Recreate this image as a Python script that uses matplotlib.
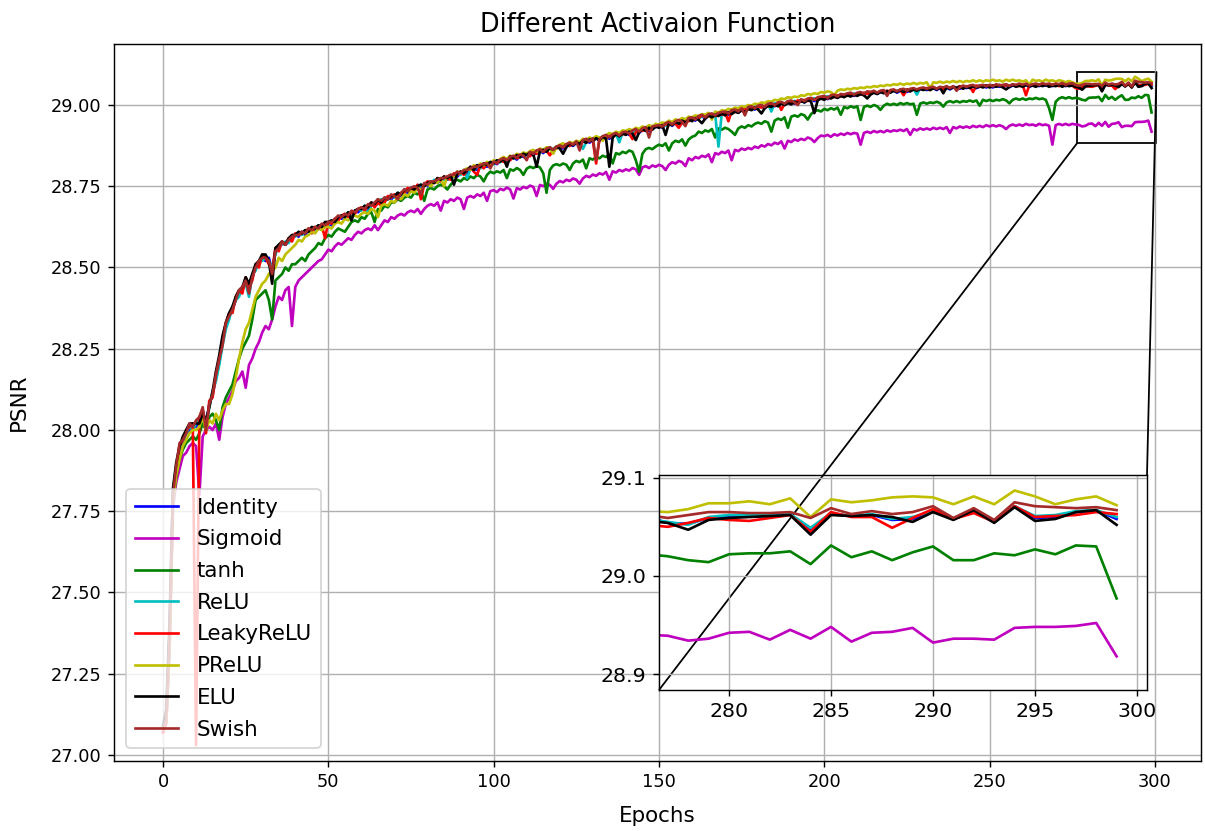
import matplotlib
matplotlib.use("Agg")
import matplotlib.pyplot as plt
import numpy as np
from matplotlib.ticker import MultipleLocator, FormatStrFormatter
from mpl_toolkits.axes_grid1.inset_locator import mark_inset

labels = ["Identity", "Sigmoid", "tanh", "ReLU", "LeakyReLU", "PReLU", "ELU", "Swish"]
colors = ["b", "m", "g", "c", "r", "y", "k", "brown"]

identity = [
    27.08, 27.12, 27.38, 27.80, 27.88, 27.94, 27.96, 27.99, 28.00, 28.01,
    28.01, 28.03, 28.06, 28.02, 28.08, 28.11, 28.16, 28.21, 28.27, 28.32,
    28.35, 28.37, 28.40, 28.42, 28.43, 28.46, 28.43, 28.47, 28.50, 28.51,
    28.53, 28.52, 28.53, 28.49, 28.55, 28.56, 28.575, 28.57, 28.58, 28.59,
    28.60, 28.595, 28.61, 28.60, 28.615, 28.61, 28.62, 28.625, 28.62, 28.63,
    28.635, 28.63, 28.645, 28.655, 28.65, 28.66, 28.665, 28.66, 28.675, 28.67,
    28.68, 28.685, 28.68, 28.695, 28.69, 28.705, 28.70, 28.71, 28.715, 28.71,
    28.72, 28.725, 28.72, 28.735, 28.73, 28.74, 28.745, 28.74, 28.75, 28.755,
    28.75, 28.76, 28.765, 28.76, 28.77, 28.775, 28.77, 28.78, 28.785, 28.78,
    28.79, 28.795, 28.79, 28.80, 28.805, 28.80, 28.81, 28.815, 28.81, 28.82,
    28.823, 28.818, 28.828, 28.832, 28.826, 28.836, 28.840, 28.832, 28.845, 28.840,
    28.848, 28.852, 28.845, 28.855, 28.860, 28.852, 28.862, 28.866, 28.858, 28.868,
    28.872, 28.866, 28.876, 28.880, 28.874, 28.884, 28.878, 28.888, 28.892, 28.884,
    28.894, 28.898, 28.890, 28.900, 28.904, 28.896, 28.906, 28.910, 28.902, 28.912,
    28.914, 28.908, 28.918, 28.922, 28.914, 28.924, 28.928, 28.920, 28.930, 28.932,
    28.935, 28.930, 28.940, 28.944, 28.936, 28.946, 28.950, 28.944, 28.952, 28.956,
    28.958, 28.952, 28.962, 28.966, 28.958, 28.968, 28.970, 28.964, 28.972, 28.974,
    28.976, 28.970, 28.980, 28.982, 28.976, 28.986, 28.984, 28.990, 28.992, 28.986,
    28.994, 28.996, 28.990, 29.000, 29.002, 28.996, 29.004, 29.006, 29.000, 29.008,
    29.010, 29.004, 29.012, 29.014, 29.008, 29.016, 29.018, 29.012, 29.020, 29.022,
    29.024, 29.018, 29.026, 29.028, 29.022, 29.030, 29.028, 29.032, 29.034, 29.028,
    29.034, 29.036, 29.030, 29.038, 29.036, 29.040, 29.034, 29.040, 29.042, 29.038,
    29.042, 29.044, 29.038, 29.044, 29.046, 29.040, 29.046, 29.048, 29.044, 29.048,
    29.050, 29.046, 29.050, 29.052, 29.046, 29.052, 29.050, 29.054, 29.048, 29.054,
    29.054, 29.050, 29.056, 29.052, 29.056, 29.058, 29.052, 29.056, 29.058, 29.054,
    29.058, 29.054, 29.060, 29.056, 29.058, 29.060, 29.055, 29.060, 29.058, 29.062,
    29.058, 29.062, 29.056, 29.060, 29.062, 29.058, 29.063, 29.060, 29.062, 29.058,
    29.062, 29.060, 29.064, 29.058, 29.062, 29.063, 29.060,
    29.054, 29.053, 29.059, 29.061, 29.061, 29.061, 29.063, 29.046, 29.063, 29.061,
    29.062, 29.057, 29.058, 29.066, 29.058, 29.066, 29.055, 29.071, 29.059, 29.060,
    29.065, 29.067, 29.058,
]

sigmoid = [
    27.07, 27.10, 27.33, 27.76, 27.84, 27.88, 27.92, 27.93, 27.95, 27.96,
    27.95, 27.80, 27.98, 28.00, 28.01, 28.00, 28.02, 27.97, 28.04, 28.08,
    28.10, 28.12, 28.15, 28.16, 28.18, 28.13, 28.20, 28.22, 28.25, 28.27,
    28.30, 28.32, 28.31, 28.34, 28.38, 28.41, 28.40, 28.43, 28.44, 28.32,
    28.44, 28.46, 28.47, 28.48, 28.49, 28.50, 28.51, 28.52, 28.525, 28.54,
    28.555, 28.55, 28.565, 28.575, 28.57, 28.58, 28.59, 28.585, 28.60, 28.61,
    28.605, 28.615, 28.62, 28.615, 28.63, 28.615, 28.63, 28.645, 28.64, 28.655,
    28.65, 28.66, 28.665, 28.66, 28.67, 28.675, 28.67, 28.68, 28.665, 28.68,
    28.69, 28.695, 28.69, 28.70, 28.675, 28.705, 28.70, 28.71, 28.705, 28.715,
    28.71, 28.68, 28.715, 28.72, 28.715, 28.725, 28.72, 28.73, 28.705, 28.735,
    28.738, 28.732, 28.742, 28.738, 28.746, 28.740, 28.712, 28.744, 28.740, 28.748,
    28.744, 28.752, 28.748, 28.720, 28.754, 28.750, 28.758, 28.754, 28.742, 28.758,
    28.766, 28.762, 28.770, 28.766, 28.774, 28.770, 28.758, 28.774, 28.782, 28.778,
    28.786, 28.782, 28.790, 28.786, 28.794, 28.770, 28.796, 28.792, 28.800, 28.796,
    28.802, 28.798, 28.806, 28.802, 28.785, 28.808, 28.812, 28.806, 28.814, 28.810,
    28.816, 28.812, 28.800, 28.816, 28.824, 28.820, 28.828, 28.824, 28.812, 28.836,
    28.830, 28.840, 28.836, 28.844, 28.840, 28.848, 28.824, 28.852, 28.848, 28.856,
    28.852, 28.860, 28.830, 28.862, 28.858, 28.866, 28.862, 28.868, 28.864, 28.872,
    28.868, 28.876, 28.872, 28.880, 28.876, 28.884, 28.880, 28.888, 28.866, 28.890,
    28.886, 28.894, 28.890, 28.896, 28.892, 28.900, 28.896, 28.886, 28.898, 28.906,
    28.904, 28.908, 28.902, 28.910, 28.906, 28.912, 28.908, 28.914, 28.910, 28.914,
    28.912, 28.878, 28.914, 28.918, 28.914, 28.920, 28.916, 28.920, 28.916, 28.922,
    28.918, 28.922, 28.920, 28.924, 28.920, 28.926, 28.908, 28.926, 28.922, 28.928,
    28.924, 28.928, 28.924, 28.930, 28.926, 28.930, 28.926, 28.932, 28.914, 28.932,
    28.928, 28.934, 28.930, 28.934, 28.930, 28.936, 28.932, 28.936, 28.932, 28.938,
    28.934, 28.938, 28.934, 28.938, 28.934, 28.926, 28.936, 28.940, 28.936, 28.940,
    28.936, 28.942, 28.938, 28.940, 28.936, 28.942, 28.938, 28.940, 28.936, 28.878,
    28.938, 28.942, 28.938, 28.942, 28.938, 28.942, 28.940,
    28.939, 28.934, 28.936, 28.942, 28.943, 28.935, 28.945, 28.936, 28.948, 28.933,
    28.942, 28.943, 28.947, 28.932, 28.936, 28.936, 28.935, 28.947, 28.948, 28.948,
    28.949, 28.952, 28.918,
]

tanh = [
    27.08, 27.11, 27.34, 27.78, 27.86, 27.91, 27.94, 27.96, 27.97, 27.98,
    27.97, 27.99, 28.02, 28.00, 28.04, 28.05, 28.03, 28.00, 28.07, 28.10,
    28.12, 28.14, 28.18, 28.22, 28.25, 28.27, 28.29, 28.34, 28.40, 28.41,
    28.42, 28.43, 28.40, 28.34, 28.46, 28.47, 28.48, 28.50, 28.49, 28.51,
    28.51, 28.52, 28.53, 28.52, 28.54, 28.55, 28.56, 28.575, 28.57, 28.59,
    28.60, 28.595, 28.61, 28.62, 28.615, 28.61, 28.625, 28.64, 28.645, 28.64,
    28.655, 28.65, 28.665, 28.67, 28.64, 28.68, 28.675, 28.69, 28.685, 28.70,
    28.70, 28.71, 28.705, 28.715, 28.72, 28.715, 28.73, 28.725, 28.735, 28.705,
    28.74, 28.745, 28.74, 28.75, 28.755, 28.75, 28.74, 28.755, 28.765, 28.77,
    28.765, 28.775, 28.77, 28.78, 28.775, 28.785, 28.78, 28.765, 28.785, 28.795,
    28.790, 28.796, 28.792, 28.800, 28.775, 28.802, 28.798, 28.806, 28.800, 28.785,
    28.804, 28.810, 28.806, 28.812, 28.808, 28.790, 28.730, 28.800, 28.814, 28.818,
    28.814, 28.820, 28.816, 28.800, 28.820, 28.828, 28.824, 28.832, 28.805, 28.836,
    28.832, 28.840, 28.836, 28.844, 28.840, 28.848, 28.820, 28.852, 28.848, 28.856,
    28.852, 28.860, 28.856, 28.830, 28.795, 28.850, 28.864, 28.868, 28.864, 28.872,
    28.878, 28.874, 28.882, 28.860, 28.882, 28.890, 28.886, 28.894, 28.875, 28.894,
    28.902, 28.906, 28.918, 28.914, 28.922, 28.918, 28.926, 28.900, 28.928, 28.924,
    28.930, 28.926, 28.918, 28.908, 28.928, 28.934, 28.930, 28.938, 28.934, 28.942,
    28.946, 28.942, 28.950, 28.946, 28.918, 28.952, 28.958, 28.954, 28.962, 28.930,
    28.964, 28.968, 28.964, 28.972, 28.968, 28.955, 28.972, 28.980, 28.984, 28.980,
    28.988, 28.984, 28.990, 28.986, 28.992, 28.970, 28.994, 28.990, 28.996, 28.992,
    28.996, 28.954, 28.994, 28.998, 28.994, 29.000, 28.996, 28.985, 28.998, 29.004,
    29.000, 29.004, 29.000, 29.006, 29.002, 29.006, 29.002, 29.004, 28.970, 29.004,
    29.008, 29.004, 29.008, 29.006, 29.010, 29.006, 28.995, 29.008, 29.012, 29.008,
    29.012, 29.008, 29.012, 29.010, 29.014, 29.010, 29.014, 28.998, 29.016, 29.012,
    29.016, 29.012, 29.016, 29.014, 29.018, 29.014, 29.005, 29.016, 29.020, 29.016,
    29.020, 29.016, 29.020, 29.018, 29.022, 29.018, 29.020, 29.016, 28.990, 28.954,
    29.010, 29.020, 29.024, 29.020, 29.024, 29.020, 29.022,
    29.020, 29.016, 29.014, 29.022, 29.023, 29.023, 29.025, 29.012, 29.031, 29.019,
    29.025, 29.016, 29.024, 29.030, 29.016, 29.016, 29.023, 29.021, 29.027, 29.022,
    29.031, 29.030, 28.977,
]

relu = [
    27.08, 27.13, 27.40, 27.81, 27.89, 27.94, 27.97, 27.99, 28.01, 28.00,
    28.02, 28.04, 28.05, 28.01, 28.07, 28.12, 28.15, 28.20, 28.26, 28.31,
    28.34, 28.38, 28.40, 28.41, 28.44, 28.45, 28.41, 28.48, 28.49, 28.52,
    28.52, 28.53, 28.52, 28.50, 28.54, 28.57, 28.57, 28.58, 28.575, 28.595,
    28.595, 28.605, 28.60, 28.615, 28.61, 28.62, 28.615, 28.63, 28.625, 28.635,
    28.63, 28.645, 28.64, 28.65, 28.66, 28.655, 28.67, 28.665, 28.67, 28.68,
    28.675, 28.69, 28.665, 28.69, 28.70, 28.695, 28.71, 28.705, 28.71, 28.72,
    28.715, 28.73, 28.725, 28.73, 28.74, 28.735, 28.75, 28.745, 28.755, 28.75,
    28.76, 28.755, 28.77, 28.765, 28.775, 28.77, 28.78, 28.775, 28.78, 28.79,
    28.785, 28.80, 28.775, 28.805, 28.80, 28.81, 28.805, 28.82, 28.815, 28.823,
    28.818, 28.828, 28.824, 28.834, 28.830, 28.840, 28.835, 28.846, 28.838, 28.850,
    28.845, 28.855, 28.850, 28.858, 28.854, 28.864, 28.858, 28.870, 28.862, 28.872,
    28.868, 28.878, 28.872, 28.884, 28.878, 28.888, 28.882, 28.865, 28.886, 28.895,
    28.890, 28.900, 28.895, 28.904, 28.898, 28.908, 28.902, 28.912, 28.885, 28.915,
    28.910, 28.918, 28.914, 28.924, 28.918, 28.928, 28.922, 28.932, 28.926, 28.935,
    28.932, 28.940, 28.936, 28.946, 28.940, 28.950, 28.945, 28.954, 28.948, 28.958,
    28.954, 28.962, 28.957, 28.966, 28.962, 28.970, 28.965, 28.972, 28.872, 28.975,
    28.972, 28.978, 28.975, 28.984, 28.980, 28.988, 28.983, 28.992, 28.988, 28.995,
    28.990, 28.998, 28.994, 29.002, 28.980, 29.006, 29.001, 29.008, 29.004, 29.011,
    29.006, 29.013, 29.009, 29.016, 29.012, 29.019, 29.014, 29.021, 29.017, 29.024,
    29.020, 29.027, 29.023, 29.030, 29.026, 29.032, 29.027, 29.034, 29.030, 29.035,
    29.031, 29.037, 29.033, 29.040, 29.035, 29.041, 29.037, 29.043, 29.039, 29.044,
    29.040, 29.046, 29.042, 29.047, 29.043, 29.048, 29.044, 29.050, 29.032, 29.051,
    29.047, 29.052, 29.049, 29.053, 29.050, 29.055, 29.051, 29.056, 29.052, 29.057,
    29.053, 29.058, 29.054, 29.058, 29.055, 29.059, 29.056, 29.060, 29.056, 29.061,
    29.057, 29.061, 29.058, 29.062, 29.058, 29.062, 29.059, 29.063, 29.059, 29.063,
    29.060, 29.064, 29.060, 29.063, 29.061, 29.064, 29.060, 29.064, 29.061, 29.064,
    29.060, 29.064, 29.061, 29.063, 29.060, 29.063, 29.058,
    29.055, 29.052, 29.060, 29.062, 29.062, 29.062, 29.063, 29.049, 29.064, 29.061,
    29.063, 29.058, 29.060, 29.066, 29.058, 29.066, 29.056, 29.071, 29.061, 29.062,
    29.066, 29.067, 29.060,
]

leaky_relu = [
    27.07, 27.10, 27.36, 27.79, 27.88, 27.95, 27.97, 28.00, 28.01, 28.02,
    27.03, 28.04, 28.06, 27.99, 28.09, 28.10, 28.17, 28.22, 28.28, 28.33,
    28.36, 28.36, 28.41, 28.43, 28.42, 28.47, 28.44, 28.46, 28.51, 28.50,
    28.54, 28.53, 28.51, 28.49, 28.56, 28.55, 28.58, 28.57, 28.59, 28.58,
    28.605, 28.60, 28.605, 28.61, 28.62, 28.605, 28.625, 28.62, 28.63, 28.59,
    28.64, 28.635, 28.65, 28.645, 28.66, 28.665, 28.655, 28.67, 28.665, 28.68,
    28.685, 28.675, 28.69, 28.70, 28.685, 28.70, 28.69, 28.70, 28.72, 28.715,
    28.725, 28.72, 28.73, 28.73, 28.745, 28.735, 28.74, 28.755, 28.71, 28.755,
    28.765, 28.76, 28.76, 28.775, 28.765, 28.78, 28.775, 28.77, 28.79, 28.785,
    28.795, 28.785, 28.80, 28.81, 28.795, 28.785, 28.815, 28.805, 28.82, 28.815,
    28.826, 28.820, 28.830, 28.825, 28.836, 28.830, 28.842, 28.836, 28.840, 28.848,
    28.850, 28.842, 28.856, 28.850, 28.862, 28.856, 28.860, 28.845, 28.862, 28.866,
    28.874, 28.870, 28.878, 28.874, 28.882, 28.886, 28.880, 28.890, 28.884, 28.894,
    28.890, 28.820, 28.896, 28.902, 28.898, 28.906, 28.900, 28.912, 28.906, 28.910,
    28.916, 28.912, 28.895, 28.916, 28.924, 28.920, 28.930, 28.924, 28.928, 28.934,
    28.936, 28.932, 28.942, 28.938, 28.946, 28.942, 28.930, 28.946, 28.955, 28.950,
    28.960, 28.956, 28.960, 28.968, 28.962, 28.966, 28.972, 28.966, 28.974, 28.970,
    28.978, 28.950, 28.982, 28.978, 28.984, 28.982, 28.988, 28.986, 28.994, 28.990,
    28.996, 28.992, 28.998, 28.996, 29.004, 28.998, 29.006, 28.985, 29.004, 29.010,
    29.008, 29.006, 29.014, 29.010, 29.016, 29.012, 29.020, 29.016, 29.018, 29.024,
    29.022, 29.020, 29.028, 29.024, 29.030, 29.026, 29.032, 29.028, 29.036, 29.030,
    29.036, 29.032, 29.038, 29.034, 29.040, 29.038, 29.036, 29.042, 29.040, 29.044,
    29.040, 29.046, 29.042, 29.046, 29.030, 29.048, 29.042, 29.050, 29.046, 29.050,
    29.048, 29.052, 29.046, 29.054, 29.050, 29.054, 29.048, 29.056, 29.052, 29.056,
    29.052, 29.058, 29.054, 29.056, 29.058, 29.040, 29.060, 29.056, 29.058, 29.060,
    29.056, 29.060, 29.058, 29.062, 29.056, 29.062, 29.058, 29.062, 29.060, 29.058,
    29.062, 29.030, 29.060, 29.064, 29.058, 29.062, 29.060, 29.064, 29.058, 29.062,
    29.064, 29.058, 29.062, 29.060, 29.064, 29.060, 29.052,
    29.050, 29.054, 29.059, 29.057, 29.056, 29.059, 29.062, 29.045, 29.065, 29.060,
    29.060, 29.049, 29.059, 29.068, 29.058, 29.064, 29.055, 29.071, 29.060, 29.061,
    29.062, 29.065, 29.063,
]

prelu = [
    27.08, 27.11, 27.35, 27.78, 27.86, 27.91, 27.95, 27.97, 27.99, 28.00,
    28.00, 28.01, 28.04, 28.00, 28.03, 28.02, 28.05, 28.03, 28.06, 28.08,
    28.08, 28.11, 28.16, 28.22, 28.27, 28.31, 28.33, 28.37, 28.41, 28.43,
    28.45, 28.46, 28.48, 28.49, 28.50, 28.53, 28.52, 28.54, 28.55, 28.56,
    28.57, 28.585, 28.58, 28.595, 28.60, 28.61, 28.605, 28.62, 28.615, 28.625,
    28.625, 28.62, 28.635, 28.64, 28.635, 28.65, 28.645, 28.655, 28.66, 28.655,
    28.665, 28.67, 28.665, 28.68, 28.675, 28.655, 28.69, 28.695, 28.69, 28.705,
    28.70, 28.715, 28.71, 28.725, 28.72, 28.735, 28.73, 28.745, 28.74, 28.75,
    28.755, 28.75, 28.765, 28.76, 28.775, 28.75, 28.78, 28.785, 28.78, 28.795,
    28.79, 28.80, 28.805, 28.80, 28.815, 28.81, 28.82, 28.815, 28.825, 28.82,
    28.830, 28.826, 28.834, 28.840, 28.834, 28.844, 28.840, 28.850, 28.846, 28.854,
    28.850, 28.858, 28.862, 28.856, 28.866, 28.862, 28.870, 28.866, 28.850, 28.870,
    28.878, 28.882, 28.876, 28.886, 28.882, 28.890, 28.886, 28.896, 28.892, 28.900,
    28.896, 28.904, 28.900, 28.890, 28.906, 28.914, 28.910, 28.918, 28.914, 28.922,
    28.920, 28.926, 28.922, 28.930, 28.926, 28.934, 28.930, 28.938, 28.934, 28.942,
    28.940, 28.946, 28.944, 28.952, 28.948, 28.956, 28.952, 28.960, 28.956, 28.964,
    28.962, 28.968, 28.966, 28.972, 28.970, 28.976, 28.955, 28.980, 28.976, 28.984,
    28.982, 28.988, 28.986, 28.992, 28.990, 28.996, 28.994, 29.000, 28.998, 29.004,
    29.002, 29.008, 29.006, 29.012, 29.010, 29.016, 29.014, 29.020, 29.018, 29.024,
    29.022, 29.026, 29.024, 29.030, 29.028, 29.034, 29.032, 29.036, 29.034, 29.040,
    29.038, 29.042, 29.040, 29.030, 29.044, 29.048, 29.046, 29.050, 29.048, 29.052,
    29.050, 29.054, 29.052, 29.056, 29.054, 29.058, 29.056, 29.060, 29.058, 29.062,
    29.060, 29.064, 29.062, 29.066, 29.062, 29.066, 29.064, 29.068, 29.064, 29.068,
    29.066, 29.070, 29.052, 29.070, 29.068, 29.072, 29.068, 29.072, 29.070, 29.074,
    29.070, 29.074, 29.070, 29.074, 29.072, 29.076, 29.072, 29.076, 29.072, 29.076,
    29.074, 29.078, 29.074, 29.076, 29.072, 29.078, 29.074, 29.078, 29.074, 29.076,
    29.072, 29.076, 29.062, 29.078, 29.074, 29.076, 29.072, 29.078, 29.074, 29.076,
    29.072, 29.076, 29.074, 29.070, 29.074, 29.070, 29.066,
    29.065, 29.068, 29.074, 29.074, 29.076, 29.073, 29.079, 29.060, 29.078, 29.075,
    29.077, 29.080, 29.081, 29.080, 29.073, 29.081, 29.073, 29.087, 29.081, 29.073,
    29.078, 29.081, 29.072,
]

elu = [
    27.09, 27.14, 27.42, 27.82, 27.90, 27.95, 27.98, 28.00, 28.02, 28.02,
    28.02, 28.02, 28.05, 28.03, 28.07, 28.12, 28.18, 28.23, 28.29, 28.33,
    28.36, 28.38, 28.41, 28.43, 28.44, 28.47, 28.45, 28.48, 28.51, 28.52,
    28.54, 28.54, 28.52, 28.45, 28.56, 28.57, 28.58, 28.57, 28.59, 28.60,
    28.60, 28.61, 28.605, 28.615, 28.61, 28.625, 28.62, 28.63, 28.625, 28.64,
    28.64, 28.645, 28.64, 28.655, 28.66, 28.655, 28.67, 28.645, 28.675, 28.68,
    28.68, 28.69, 28.685, 28.70, 28.695, 28.71, 28.70, 28.715, 28.71, 28.72,
    28.72, 28.73, 28.725, 28.74, 28.735, 28.745, 28.74, 28.75, 28.755, 28.75,
    28.76, 28.765, 28.76, 28.775, 28.77, 28.78, 28.775, 28.785, 28.755, 28.79,
    28.795, 28.79, 28.80, 28.81, 28.80, 28.815, 28.81, 28.82, 28.815, 28.825,
    28.820, 28.830, 28.826, 28.836, 28.810, 28.842, 28.836, 28.846, 28.840, 28.850,
    28.846, 28.854, 28.848, 28.810, 28.858, 28.862, 28.856, 28.868, 28.862, 28.872,
    28.866, 28.850, 28.870, 28.882, 28.876, 28.886, 28.880, 28.890, 28.884, 28.894,
    28.888, 28.898, 28.892, 28.902, 28.896, 28.810, 28.900, 28.910, 28.904, 28.912,
    28.908, 28.918, 28.912, 28.892, 28.916, 28.926, 28.920, 28.930, 28.924, 28.934,
    28.930, 28.938, 28.908, 28.944, 28.938, 28.948, 28.942, 28.952, 28.946, 28.956,
    28.950, 28.960, 28.954, 28.944, 28.958, 28.968, 28.962, 28.970, 28.966, 28.974,
    28.968, 28.978, 28.972, 28.980, 28.976, 28.984, 28.978, 28.988, 28.984, 28.992,
    28.986, 28.974, 28.990, 28.998, 28.994, 29.002, 28.996, 29.004, 29.000, 29.006,
    29.002, 29.010, 29.006, 29.012, 29.008, 29.016, 29.010, 28.975, 29.014, 29.020,
    29.016, 29.024, 29.020, 29.026, 29.022, 29.028, 29.024, 29.030, 29.026, 29.032,
    29.028, 29.034, 29.030, 29.020, 29.032, 29.038, 29.034, 29.040, 29.036, 29.042,
    29.038, 29.044, 29.040, 29.046, 29.040, 29.046, 29.042, 29.048, 29.044, 29.050,
    29.046, 29.050, 29.046, 29.052, 29.048, 29.054, 29.036, 29.054, 29.050, 29.056,
    29.052, 29.056, 29.050, 29.056, 29.052, 29.058, 29.054, 29.058, 29.054, 29.060,
    29.054, 29.060, 29.056, 29.060, 29.054, 29.048, 29.056, 29.062, 29.056, 29.060,
    29.056, 29.062, 29.058, 29.060, 29.056, 29.062, 29.058, 29.062, 29.056, 29.060,
    29.058, 29.062, 29.056, 29.062, 29.058, 29.060, 29.056,
    29.054, 29.047, 29.057, 29.059, 29.060, 29.061, 29.062, 29.042, 29.062, 29.061,
    29.062, 29.060, 29.055, 29.065, 29.057, 29.067, 29.054, 29.070, 29.056, 29.058,
    29.065, 29.067, 29.052,
]

swish = [
    27.08, 27.11, 27.37, 27.80, 27.89, 27.96, 27.97, 27.99, 28.02, 28.01,
    28.03, 28.04, 28.07, 28.00, 28.08, 28.11, 28.17, 28.22, 28.26, 28.33,
    28.35, 28.37, 28.40, 28.43, 28.44, 28.46, 28.42, 28.47, 28.50, 28.52,
    28.53, 28.53, 28.52, 28.48, 28.55, 28.56, 28.58, 28.57, 28.585, 28.595,
    28.60, 28.60, 28.61, 28.605, 28.62, 28.615, 28.625, 28.62, 28.635, 28.63,
    28.64, 28.64, 28.65, 28.66, 28.655, 28.665, 28.66, 28.675, 28.67, 28.68,
    28.685, 28.68, 28.695, 28.69, 28.70, 28.71, 28.705, 28.715, 28.71, 28.725,
    28.72, 28.71, 28.73, 28.74, 28.735, 28.745, 28.75, 28.745, 28.725, 28.76,
    28.755, 28.765, 28.765, 28.77, 28.775, 28.775, 28.78, 28.785, 28.785, 28.795,
    28.79, 28.80, 28.80, 28.805, 28.81, 28.81, 28.815, 28.82, 28.82, 28.805,
    28.826, 28.822, 28.832, 28.836, 28.830, 28.840, 28.844, 28.838, 28.848, 28.844,
    28.830, 28.856, 28.850, 28.860, 28.864, 28.856, 28.866, 28.870, 28.862, 28.872,
    28.876, 28.870, 28.880, 28.884, 28.878, 28.888, 28.860, 28.892, 28.896, 28.888,
    28.898, 28.830, 28.894, 28.904, 28.908, 28.900, 28.910, 28.914, 28.906, 28.916,
    28.918, 28.912, 28.922, 28.926, 28.918, 28.928, 28.932, 28.900, 28.934, 28.936,
    28.938, 28.934, 28.944, 28.948, 28.940, 28.950, 28.954, 28.948, 28.935, 28.960,
    28.962, 28.956, 28.966, 28.970, 28.962, 28.972, 28.974, 28.968, 28.976, 28.978,
    28.980, 28.974, 28.984, 28.986, 28.980, 28.990, 28.968, 28.994, 28.996, 28.990,
    28.998, 29.000, 28.994, 29.004, 29.006, 29.000, 29.008, 29.010, 29.004, 29.012,
    29.014, 29.008, 29.000, 29.018, 29.012, 29.020, 29.022, 29.016, 29.024, 29.026,
    29.028, 29.022, 29.030, 29.032, 29.026, 29.034, 29.032, 29.036, 29.038, 29.032,
    29.038, 29.040, 29.034, 29.042, 29.040, 29.044, 29.038, 29.044, 29.046, 29.028,
    29.046, 29.048, 29.042, 29.048, 29.050, 29.044, 29.050, 29.052, 29.048, 29.052,
    29.054, 29.050, 29.054, 29.056, 29.050, 29.056, 29.054, 29.058, 29.052, 29.058,
    29.044, 29.054, 29.060, 29.056, 29.060, 29.062, 29.056, 29.060, 29.062, 29.058,
    29.062, 29.058, 29.064, 29.060, 29.062, 29.064, 29.059, 29.064, 29.062, 29.066,
    29.062, 29.066, 29.060, 29.064, 29.066, 29.062, 29.067, 29.064, 29.066, 29.062,
    29.066, 29.064, 29.068, 29.062, 29.066, 29.067, 29.062,
    29.059, 29.062, 29.065, 29.065, 29.064, 29.064, 29.065, 29.059, 29.069, 29.063,
    29.066, 29.063, 29.065, 29.071, 29.059, 29.069, 29.057, 29.075, 29.071, 29.070,
    29.069, 29.070, 29.067,
]

series = [identity, sigmoid, tanh, relu, leaky_relu, prelu, elu, swish]

title = "Different Activaion Function"
x_label = "Epochs"
y_label = "PSNR"
inset_xticks = [280, 285, 290, 295, 300]
inset_yticks = [28.9, 29.0, 29.1]

W, H, DPI = 1205, 831, 128
fig = plt.figure(figsize=(W / DPI, H / DPI), dpi=DPI)

# main axes
ax = fig.add_axes([113.6 / W, 1 - 761 / H, (1201 - 113.6) / W, (761 - 44) / H])
for vals, lab, col in zip(series, labels, colors):
    ax.plot(np.arange(len(vals)), vals, color=col, label=lab, linewidth=1.5)
ax.set_ylim(26.9815, 29.1877)
ax.yaxis.set_major_locator(MultipleLocator(0.25))
ax.yaxis.set_major_formatter(FormatStrFormatter("%.2f"))
ax.grid(True)
ax.set_title(title, fontsize=14.4, pad=7)
ax.set_xlabel(x_label, fontsize=12, labelpad=8)
ax.set_ylabel(y_label, fontsize=12, labelpad=12)
ax.legend(loc="lower left", fontsize=12, labelspacing=0.55, handletextpad=0.9,
          borderaxespad=0.6)

# inset
axins = fig.add_axes([659 / W, 1 - 690 / H, 488 / W, 215 / H])
for vals, lab, col in zip(series, labels, colors):
    axins.plot(np.arange(len(vals)), vals, color=col, linewidth=1.5)
axins.set_xlim(276.57, 300.49)
axins.set_ylim(28.8837, 29.1028)
axins.set_xticks(inset_xticks)
axins.set_yticks(inset_yticks)
axins.yaxis.set_major_formatter(FormatStrFormatter("%.1f"))
axins.tick_params(labelsize=11.5)
axins.grid(True)

mark_inset(ax, axins, loc1=1, loc2=3, fc="none", ec="black", lw=1.0)

fig.savefig("out.png", dpi=DPI)
